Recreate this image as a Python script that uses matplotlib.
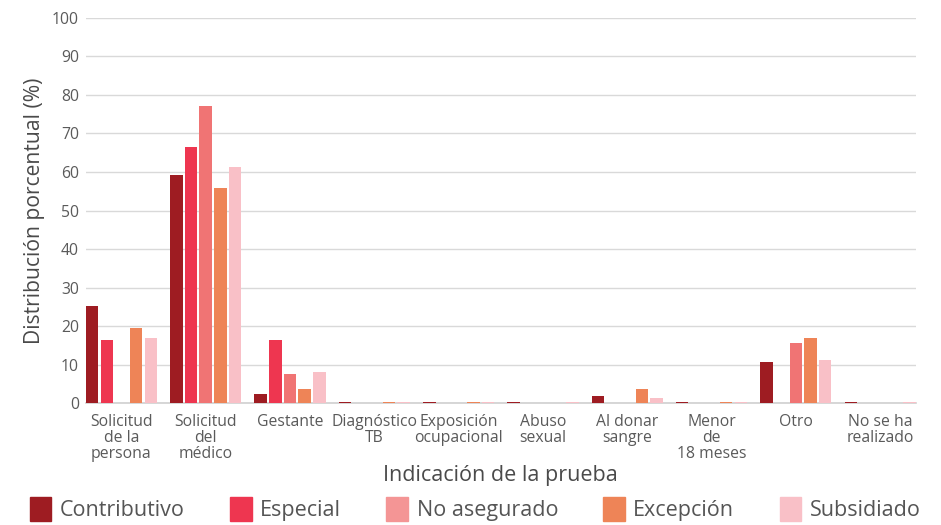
import matplotlib.pyplot as plt
import matplotlib.patches as mpatches
import numpy as np

plt.rcParams['font.family'] = ['Open Sans', 'DejaVu Sans']

categorias = ['Solicitud\nde la\npersona', 'Solicitud\ndel\nmédico', 'Gestante', 'Diagnóstico\nTB',
              'Exposición\nocupacional', 'Abuso\nsexual', 'Al donar\nsangre', 'Menor\nde\n18 meses',
              'Otro', 'No se ha\nrealizado']
regimenes = ['Contributivo', 'Especial', 'No asegurado', 'Excepción', 'Subsidiado']

contributivo = [25.1, 59.2, 2.4, 0.3, 0.3, 0.3, 1.9, 0.3, 10.6, 0.3]
especial = [16.5, 66.5, 16.4, 0, 0, 0, 0, 0, 0, 0]
no_asegurado = [0, 77.0, 7.6, 0, 0, 0, 0, 0, 15.6, 0]
excepcion = [19.6, 55.8, 3.6, 0.3, 0.3, 0, 3.6, 0.3, 16.8, 0]
subsidiado = [17.0, 61.2, 8.1, 0.3, 0.3, 0.3, 1.4, 0.3, 11.1, 0.3]

series = [contributivo, especial, no_asegurado, excepcion, subsidiado]
colores = ['#9e1c22', '#ee3650', '#f07474', '#ee8457', '#f9c0c7']
colores_leyenda = ['#9e1c22', '#ee3650', '#f49595', '#ee8457', '#f9c0c7']

fig = plt.figure(figsize=(9.41, 5.25), dpi=100)
ax = fig.add_axes([0.0914, 0.232, 0.8816, 0.734])

x = np.arange(len(categorias))
slot = 0.174
ancho = 0.148
for i, (vals, c) in enumerate(zip(series, colores)):
    ax.bar(x + (i - 2) * slot, vals, width=ancho, color=c, zorder=3)

ax.set_xlim(-0.42, len(categorias) - 0.58)
ax.set_ylim(0, 100)
ax.set_yticks(range(0, 101, 10))
ax.grid(axis='y', color='#d9d9d9', linewidth=1, zorder=0)
for s in ['top', 'right', 'left']:
    ax.spines[s].set_visible(False)
ax.spines['bottom'].set_color('#d0d0d0')
ax.spines['bottom'].set_linewidth(1.2)
ax.tick_params(axis='both', length=0, colors='#5a5a5a', labelsize=11.3)
ax.tick_params(axis='x', pad=8)
ax.tick_params(axis='y', pad=5)
ax.set_xticks(x)
ax.set_xticklabels(categorias, linespacing=1.0)

ax.set_ylabel('Distribución porcentual (%)', fontsize=15.2, color='#4a4a4a', labelpad=5)
ax.set_xlabel('Indicación de la prueba', fontsize=15.5, color='#4a4a4a', labelpad=2)

handles = [mpatches.Patch(color=c, label=r) for c, r in zip(colores_leyenda, regimenes)]
fig.legend(handles=handles, loc='lower center', ncol=5, frameon=False, fontsize=15.5,
           bbox_to_anchor=(0.505, -0.03), handlelength=1.0, handleheight=1.3,
           handletextpad=0.4, columnspacing=2.1, labelcolor='#555555')

fig.savefig('out.png', dpi=100)
